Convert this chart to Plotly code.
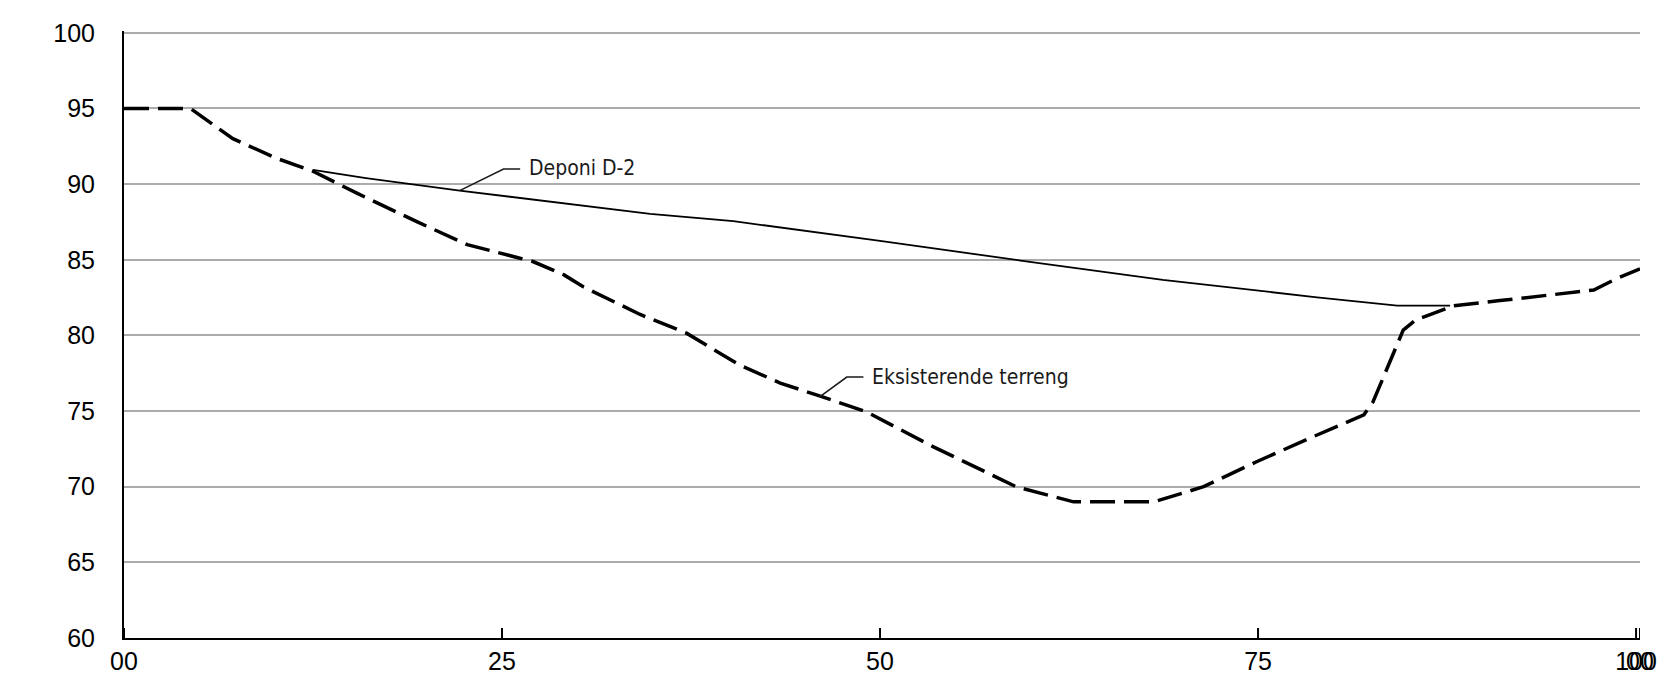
import plotly.graph_objects as go

# profil - eksisterende terreng og deponi D-2
station_terreng = [0, 4.4, 7.2, 10.1, 12.5, 15.4, 19.4, 22.7, 26.0, 27.0, 29.1, 30.4, 34.1,
                   37.2, 40.7, 43.4, 46.0, 49.1, 53.5, 59.0, 62.8, 68.1, 71.4, 74.9, 78.4,
                   82.0, 82.6, 83.3, 84.6, 85.4, 87.9, 91.0, 97.2, 98.7, 100.26]
kote_terreng = [95, 95, 93.0, 91.7, 90.85, 89.4, 87.5, 86.0, 85.15, 84.9, 84.0, 83.2, 81.4,
                80.15, 78.05, 76.85, 76.0, 74.95, 72.65, 70.0, 69.0, 69.0, 70.0, 71.65, 73.2,
                74.75, 75.6, 77.3, 80.35, 81.0, 81.95, 82.3, 83.0, 83.75, 84.4]

station_deponi = [12.5, 16.0, 22.2, 34.8, 40.3, 50.0, 59.3, 68.7, 78.9, 84.2, 87.7]
kote_deponi = [90.94, 90.4, 89.57, 88.03, 87.55, 86.25, 84.95, 83.67, 82.52, 81.97, 81.97]

x_tick_vals = [0, 25, 50, 75, 100, 100.26]
x_tick_text = ["00", "25", "50", "75", "100", "00"]
y_tick_vals = [60, 65, 70, 75, 80, 85, 90, 95, 100]

label_font = dict(family="DejaVu Sans Condensed, Liberation Sans Narrow, sans-serif",
                  size=21, color="#1a1a1a")
tick_font = dict(family="Liberation Sans, Arial", size=25, color="black")

fig = go.Figure()
fig.add_trace(go.Scatter(x=station_terreng, y=kote_terreng, mode="lines",
                         line=dict(color="black", width=3.5, dash="25px,9px"),
                         name="Eksisterende terreng"))
fig.add_trace(go.Scatter(x=station_deponi, y=kote_deponi, mode="lines",
                         line=dict(color="black", width=1.8),
                         name="Deponi D-2"))

# tekst med hjelpelinje (leader)
labels = [
    ("Deponi D-2", [(22.2, 89.57), (25.1, 91.0), (26.2, 91.0)], 26.65, 91.05),
    ("Eksisterende terreng", [(46.03, 75.95), (47.8, 77.25), (48.9, 77.25)], 49.35, 77.28),
]
for text, pts, tx, ty in labels:
    path = "M " + " L ".join(f"{px},{py}" for px, py in pts)
    fig.add_shape(type="path", path=path, xref="x", yref="y",
                  line=dict(color="#1a1a1a", width=1.6))
    fig.add_annotation(x=tx, y=ty, text=text, showarrow=False, xanchor="left",
                       yanchor="middle", font=label_font)

# små innvendige tick-streker på x-aksen (ca. 10 px høye)
tick_height = 10 / 15.125
for tv in x_tick_vals:
    fig.add_shape(type="line", xref="x", yref="y", layer="above",
                  x0=tv, x1=tv, y0=60, y1=60 + tick_height,
                  line=dict(color="black", width=2))

fig.update_xaxes(range=[0, 100.26], tickvals=x_tick_vals, ticktext=x_tick_text,
                 tickangle=0, automargin=False, ticks="",
                 showline=True, linecolor="black", linewidth=2, showgrid=False,
                 zeroline=False, tickfont=tick_font)
fig.update_yaxes(range=[60, 100.12], tickvals=y_tick_vals, ticks="", automargin=False,
                 showline=True, linecolor="black", linewidth=2,
                 showgrid=True, gridcolor="#ababab", gridwidth=1.6, zeroline=False,
                 ticklabelstandoff=22, tickfont=tick_font)
# page body has an 8px margin, so the figure is sized to fit inside the window
fig.update_layout(width=1652, height=667, showlegend=False,
                  plot_bgcolor="white", paper_bgcolor="white",
                  margin=dict(l=116, r=20, t=23, b=37))

fig.write_html("out.html")
